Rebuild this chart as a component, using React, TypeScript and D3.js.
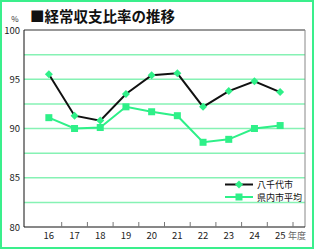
import React from "react";
import * as d3 from "d3";

const years = ["16", "17", "18", "19", "20", "21", "22", "23", "24", "25"];
const yachiyo = [95.5, 91.3, 90.8, 93.5, 95.4, 95.6, 92.2, 93.8, 94.8, 93.7];
const kennai = [91.1, 90.0, 90.1, 92.2, 91.7, 91.3, 88.6, 88.9, 90.0, 90.3];
const yTicks = [80, 85, 90, 95, 100];
const gridLines = [82.5, 85, 87.5, 90, 92.5, 95, 97.5];

const W = 314;
const H = 249;
const left = 24;
const right = 305;
const top = 30;
const bottom = 227;

const font = "'Noto Sans CJK JP', 'Noto Sans', sans-serif";

const App = () => {
  const x = d3.scaleBand().domain(years).range([36, 293]);
  const y = d3.scaleLinear().domain([80, 100]).range([bottom, top]);
  const cx = (d: string) => (x(d) as number) + x.bandwidth() / 2;

  const line = d3
    .line<number>()
    .x((d, i) => cx(years[i]))
    .y(d => y(d));

  const diamond = (px: number, py: number, r: number) =>
    `M${px},${py - r}L${px + r},${py}L${px},${py + r}L${px - r},${py}Z`;

  return (
    <svg
      width={W}
      height={H}
      style={{ position: "absolute", left: 0, top: 0, background: "#fff" }}
      fontFamily={font}
    >
      <rect x={1} y={1} width={W - 2} height={H - 2} fill="none" stroke="#3aef8c" strokeWidth={2} />

      <text x={30} y={22} fontSize={14.5} fontWeight="bold" fill="#111">■経常収支比率の推移</text>
      <text x={15} y={22} fontSize={8} fill="#333" textAnchor="middle">%</text>

      {gridLines.map(g => (
        <line key={g} x1={left} x2={right} y1={y(g)} y2={y(g)} stroke="#86f2b4" strokeWidth={1.5} />
      ))}

      {/* frame */}
      <line x1={left} x2={right} y1={top} y2={top} stroke="#333" strokeWidth={1} />
      <line x1={right} x2={right} y1={top} y2={bottom} stroke="#888" strokeWidth={1} />
      <line x1={left} x2={left} y1={top} y2={bottom} stroke="#111" strokeWidth={1} />
      <line x1={left} x2={right} y1={bottom} y2={bottom} stroke="#111" strokeWidth={1} />

      {yTicks.map(t => (
        <text key={t} x={20} y={y(t) + 3.5} fontSize={9.5} fill="#222" textAnchor="end">{t}</text>
      ))}

      {years.map(d => (
        <g key={d}>
          <line
            x1={(x(d) as number) + x.bandwidth()}
            x2={(x(d) as number) + x.bandwidth()}
            y1={bottom - 5}
            y2={bottom}
            stroke="#777"
          />
          <text x={cx(d)} y={239} fontSize={9.5} fill="#222" textAnchor="middle">{d}</text>
        </g>
      ))}
      <text x={288} y={239} fontSize={9} fill="#666">年度</text>

      <path d={line(kennai) || ""} fill="none" stroke="#2ef088" strokeWidth={2} />
      {kennai.map((v, i) => (
        <rect key={i} x={cx(years[i]) - 3.5} y={y(v) - 3.5} width={7} height={7} fill="#2ef088" />
      ))}

      <path d={line(yachiyo) || ""} fill="none" stroke="#111" strokeWidth={2} />
      {yachiyo.map((v, i) => (
        <path key={i} d={diamond(cx(years[i]), y(v), 4)} fill="#2ef088" />
      ))}

      {/* legend */}
      <line x1={225} x2={253} y1={184.5} y2={184.5} stroke="#111" strokeWidth={2} />
      <path d={diamond(239, 184.5, 4)} fill="#2ef088" />
      <text x={257} y={188} fontSize={9} fill="#111">八千代市</text>
      <line x1={225} x2={253} y1={197} y2={197} stroke="#2ef088" strokeWidth={2} />
      <rect x={235.5} y={193.5} width={7} height={7} fill="#2ef088" />
      <text x={257} y={200.5} fontSize={9} fill="#111">県内市平均</text>
    </svg>
  );
};

export default App;
